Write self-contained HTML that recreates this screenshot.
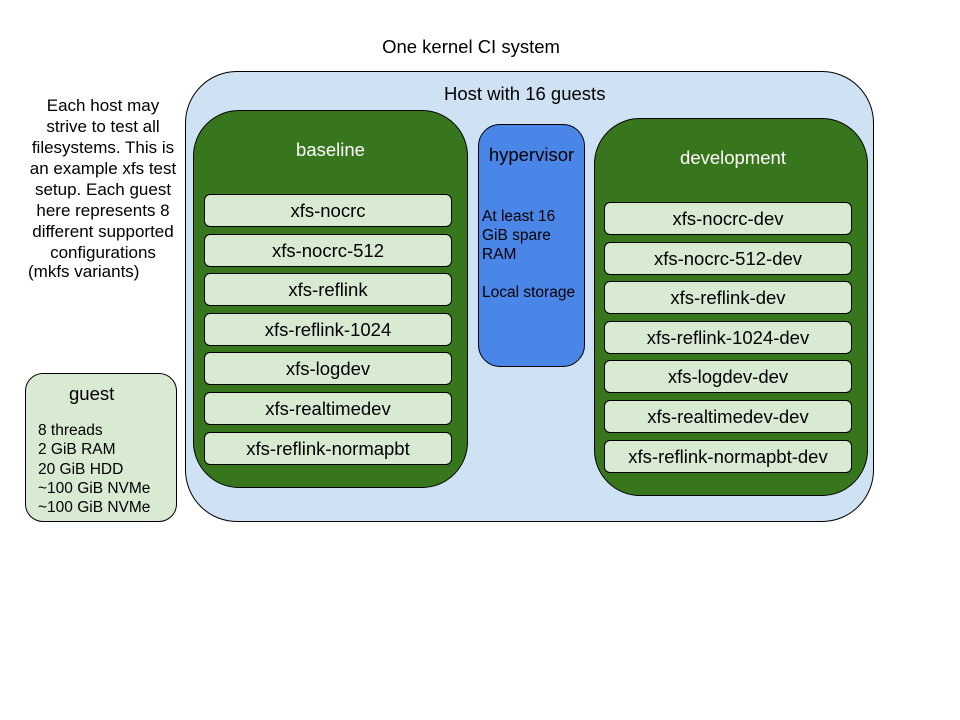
<!DOCTYPE html>
<html><head><meta charset="utf-8"><style>
html,body{margin:0;padding:0;background:#fff;}
body{width:960px;height:720px;position:relative;overflow:hidden;font-family:"Liberation Sans",Arial,sans-serif;color:#000;}
.a{position:absolute;box-sizing:border-box;}
.host{left:185px;top:71px;width:689px;height:451px;background:#cfe2f3;border:1px solid #000;border-radius:52px;}
.grp{background:#38761d;border:1px solid #000;border-radius:46px;}
.it{background:#d9ead3;border:1px solid #000;border-radius:6px;height:33px;font-size:18.5px;text-align:center;line-height:31px;white-space:nowrap;}
.t{position:absolute;white-space:nowrap;}
</style></head><body>
<div class="t" style="left:0;width:942px;text-align:center;top:36px;font-size:18.5px;">One kernel CI system</div>
<div class="t" style="left:14px;width:178px;top:95px;font-size:17px;line-height:21px;text-align:center;white-space:normal;">Each host may<br>strive to test all<br>filesystems. This is<br>an example xfs test<br>setup. Each guest<br>here represents 8<br>different supported<br>configurations</div>
<div class="t" style="left:28px;top:262px;font-size:17px;">(mkfs variants)</div>

<div class="a host"></div>
<div class="t" style="left:444px;top:83px;font-size:18.5px;">Host with 16 guests</div>

<div class="a grp" style="left:193px;top:110px;width:275px;height:378px;"></div>
<div class="t" style="left:193px;width:275px;text-align:center;top:139px;font-size:18.5px;color:#fff;">baseline</div>
<div class="a it" style="left:204px;top:194px;width:248px;">xfs-nocrc</div>
<div class="a it" style="left:204px;top:234px;width:248px;">xfs-nocrc-512</div>
<div class="a it" style="left:204px;top:273px;width:248px;">xfs-reflink</div>
<div class="a it" style="left:204px;top:313px;width:248px;">xfs-reflink-1024</div>
<div class="a it" style="left:204px;top:352px;width:248px;">xfs-logdev</div>
<div class="a it" style="left:204px;top:392px;width:248px;">xfs-realtimedev</div>
<div class="a it" style="left:204px;top:432px;width:248px;">xfs-reflink-normapbt</div>

<div class="a" style="left:478px;top:124px;width:107px;height:243px;background:#4a86e8;border:1px solid #000;border-radius:22px;"></div>
<div class="t" style="left:478px;width:107px;text-align:center;top:144px;font-size:18.5px;">hypervisor</div>
<div class="t" style="left:482px;top:207px;font-size:15.5px;line-height:19px;">At least 16<br>GiB spare<br>RAM<br><br>Local storage</div>

<div class="a grp" style="left:594px;top:118px;width:274px;height:378px;"></div>
<div class="t" style="left:594px;width:278px;text-align:center;top:147px;font-size:18.5px;color:#fff;">development</div>
<div class="a it" style="left:604px;top:202px;width:248px;">xfs-nocrc-dev</div>
<div class="a it" style="left:604px;top:242px;width:248px;">xfs-nocrc-512-dev</div>
<div class="a it" style="left:604px;top:281px;width:248px;">xfs-reflink-dev</div>
<div class="a it" style="left:604px;top:321px;width:248px;">xfs-reflink-1024-dev</div>
<div class="a it" style="left:604px;top:360px;width:248px;">xfs-logdev-dev</div>
<div class="a it" style="left:604px;top:400px;width:248px;">xfs-realtimedev-dev</div>
<div class="a it" style="left:604px;top:440px;width:248px;">xfs-reflink-normapbt-dev</div>

<div class="a" style="left:25px;top:373px;width:152px;height:149px;background:#d9ead3;border:1px solid #000;border-radius:18px;"></div>
<div class="t" style="left:69px;top:383px;font-size:18.5px;">guest</div>
<div class="t" style="left:38px;top:421px;font-size:15.5px;line-height:19.3px;">8 threads<br>2 GiB RAM<br>20 GiB HDD<br>~100 GiB NVMe<br>~100 GiB NVMe</div>
</body></html>
